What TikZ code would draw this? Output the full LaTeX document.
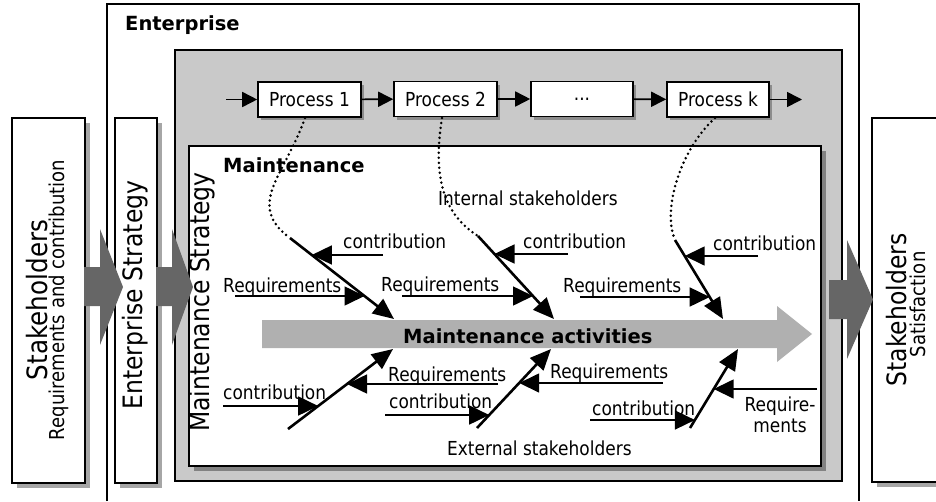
\documentclass[tikz,border=0pt]{standalone}
\usepackage{fontspec}
\setmainfont{DejaVu Sans}
\newfontfamily\cond{DejaVu Sans}[FakeStretch=0.88]
\usetikzlibrary{arrows.meta,shadows}
\begin{document}
\begin{tikzpicture}[x=1pt,y=-1pt,
  lbl/.style={font=\cond\fontsize{19.3}{21}\selectfont, inner sep=0pt},
  boldlbl/.style={font=\bfseries\fontsize{19.5}{22}\selectfont, inner sep=0pt},
  bigv/.style={font=\cond\fontsize{26.7}{30}\selectfont, inner sep=0pt, rotate=90},
  smallv/.style={font=\cond\fontsize{20.5}{23}\selectfont, inner sep=0pt, rotate=90},
  box/.style={draw=black, line width=2pt, fill=white, inner sep=0pt, anchor=north west},
  shad/.style={drop shadow={shadow xshift=5pt, shadow yshift=-5pt, opacity=0.35, fill=black}},
  pbox/.style={draw=black, line width=1.6pt, fill=white, minimum height=35pt, inner sep=0pt,
    font=\cond\fontsize{19.3}{21}\selectfont,
    drop shadow={shadow xshift=3pt, shadow yshift=-3pt, opacity=0.3, fill=black}},
  parr/.style={line width=1.6pt, -{Triangle[length=15pt,width=15pt]}},
  bone/.style={line width=2.6pt, -{Triangle[length=21pt,width=18pt]}},
  larr/.style={line width=1.6pt, -{Triangle[length=20pt,width=19pt]}},
  dots/.style={line width=2.8pt, line cap=round, dash pattern=on 0pt off 5pt},
  chev/.style={fill=black!60, draw=none},
]
\useasboundingbox (0,0) rectangle (936,501);

% Enterprise frame
\draw[line width=1.4pt] (107,501) -- (107,4) -- (859,4) -- (859,501);
\node[boldlbl, anchor=base west] (ent) at (125,30) {Enterprise};

% side boxes
\node[box, shad, minimum width=73pt, minimum height=365pt] (skbox) at (11,117) {};
\node[box, shad, minimum width=42pt, minimum height=365pt] (esbox) at (114,117) {};
\node[box, shad, minimum width=90pt, minimum height=364pt] (strbox) at (871,117) {};

% gray area and maintenance box
\node[box, fill=black!21, line width=1.6pt, minimum width=667pt, minimum height=431pt] (grey) at (174,49) {};
\node[box, shad, line width=2.2pt, minimum width=632pt, minimum height=320pt] (mbox) at (188,145) {};

% chevrons
\fill[chev] (84,267) -- (100,267) -- (100,229) -- (123,287) -- (100,345) -- (100,306) -- (84,306) -- cycle;
\fill[chev] (156,267) -- (172,267) -- (172,229) -- (193,287) -- (172,345) -- (172,306) -- (156,306) -- cycle;
\fill[chev] (829,280) -- (847,280) -- (847,240) -- (873,299.5) -- (847,359) -- (847,319) -- (829,319) -- cycle;

% vertical texts
\node[bigv, font=\cond\fontsize{28}{30}\selectfont] (sk) at (37,300) {Stakeholders};
\node[smallv] (skr) at (58.5,300) {Requirements and contribution};
\node[bigv] (es) at (135,295) {Enterprise Strategy};
\node[bigv] (ms) at (202,302) {Maintenance Strategy};
\node[bigv] (st) at (897,310) {Stakeholders};
\node[smallv] (sat) at (918,304.5) {Satisfaction};

% processes
\node[pbox, minimum width=103pt] (p1) at (309.5,99.5) {Process 1};
\node[pbox, minimum width=103pt] (p2) at (445.5,99) {Process 2};
\node[pbox, minimum width=102pt] (p3) at (582,99) {...};
\node[pbox, minimum width=102pt] (pk) at (718,99.5) {Process k};
\coordinate (pin) at (226,99.5);
\coordinate (pout) at (802,99.5);
\draw[parr] (pin) -- (p1);
\draw[parr] (p1) -- (p2);
\draw[parr] (p2) -- (p3);
\draw[parr] (p3) -- (pk);
\draw[parr] (pk) -- (pout);

\node[boldlbl, anchor=base west] (mt) at (223,172) {Maintenance};

% activity arrow
\fill[black!31] (262,320) -- (777,320) -- (777,306) -- (812,334) -- (777,362) -- (777,348) -- (262,348) -- cycle;
\node[boldlbl, anchor=base west] (act) at (403,343) {Maintenance activities};

% bones
\coordinate (s1) at (290,238); \coordinate (e1) at (394,319);
\coordinate (s2) at (478,236); \coordinate (e2) at (554,319);
\coordinate (s3) at (675,240); \coordinate (e3) at (723,319);
\coordinate (s4) at (288,429); \coordinate (e4) at (393,349);
\coordinate (s5) at (477,428); \coordinate (e5) at (551,349);
\coordinate (s6) at (690,428); \coordinate (e6) at (738,349);

\coordinate (d1) at (305,118);
\coordinate (d2) at (442,118);
\coordinate (d3) at (715,118);
\draw[dots] (d1) .. controls (285,175) and (245,205) .. (s1);
\draw[dots] (d2) .. controls (432,180) and (445,215) .. (s2);
\draw[dots] (d3) .. controls (680,150) and (662,210) .. (s3);

\draw[bone] (s1) -- (e1);
\draw[bone] (s2) -- (e2);
\draw[bone] (s3) -- (e3);
\draw[bone] (s4) -- (e4);
\draw[bone] (s5) -- (e5);
\draw[bone] (s6) -- (e6);

\node[lbl, anchor=base west] (ist) at (438,205) {Internal stakeholders};
\node[lbl, anchor=base west] (est) at (447,455) {External stakeholders};

% top labels
\node[lbl, anchor=base west] (c1) at (343,248) {contribution};
\coordinate (c1a) at (383,255); \coordinate (c1b) at (311.8,255);
\draw[larr] (c1a) -- (c1b);
\node[lbl, anchor=base west] (r1) at (223,292) {Requirements};
\coordinate (r1a) at (235,296); \coordinate (r1b) at (364.5,296);
\draw[larr] (r1a) -- (r1b);

\node[lbl, anchor=base west] (c2) at (523,248) {contribution};
\coordinate (c2a) at (568,254); \coordinate (c2b) at (494.5,254);
\draw[larr] (c2a) -- (c2b);
\node[lbl, anchor=base west] (r2) at (381,291) {Requirements};
\coordinate (r2a) at (402,296); \coordinate (r2b) at (533,296);
\draw[larr] (r2a) -- (r2b);

\node[lbl, anchor=base west] (c3) at (713,250) {contribution};
\coordinate (c3a) at (758,256); \coordinate (c3b) at (684.7,256);
\draw[larr] (c3a) -- (c3b);
\node[lbl, anchor=base west] (r3) at (563,292) {Requirements};
\coordinate (r3a) at (580,297); \coordinate (r3b) at (709.7,297);
\draw[larr] (r3a) -- (r3b);

% bottom labels
\node[lbl, anchor=base west] (c4) at (223,399) {contribution};
\coordinate (c4a) at (223,406); \coordinate (c4b) at (318.2,406);
\draw[larr] (c4a) -- (c4b);
\node[lbl, anchor=base west] (r4) at (388,381) {Requirements};
\coordinate (r4a) at (498,384); \coordinate (r4b) at (347,384);
\draw[larr] (r4a) -- (r4b);

\node[lbl, anchor=base west] (c5) at (389,408) {contribution};
\coordinate (c5a) at (385,415); \coordinate (c5b) at (489.2,415);
\draw[larr] (c5a) -- (c5b);
\node[lbl, anchor=base west] (r5) at (550,378) {Requirements};
\coordinate (r5a) at (663,383); \coordinate (r5b) at (519.2,383);
\draw[larr] (r5a) -- (r5b);

\node[lbl, anchor=base west] (c6) at (592,415) {contribution};
\coordinate (c6a) at (590,420); \coordinate (c6b) at (694.9,420);
\draw[larr] (c6a) -- (c6b);
\node[lbl, align=center, anchor=north] (r6) at (780,397) {Require-\\ments};
\coordinate (r6a) at (817,389); \coordinate (r6b) at (713.7,389);
\draw[larr] (r6a) -- (r6b);
\end{tikzpicture}
\end{document}
